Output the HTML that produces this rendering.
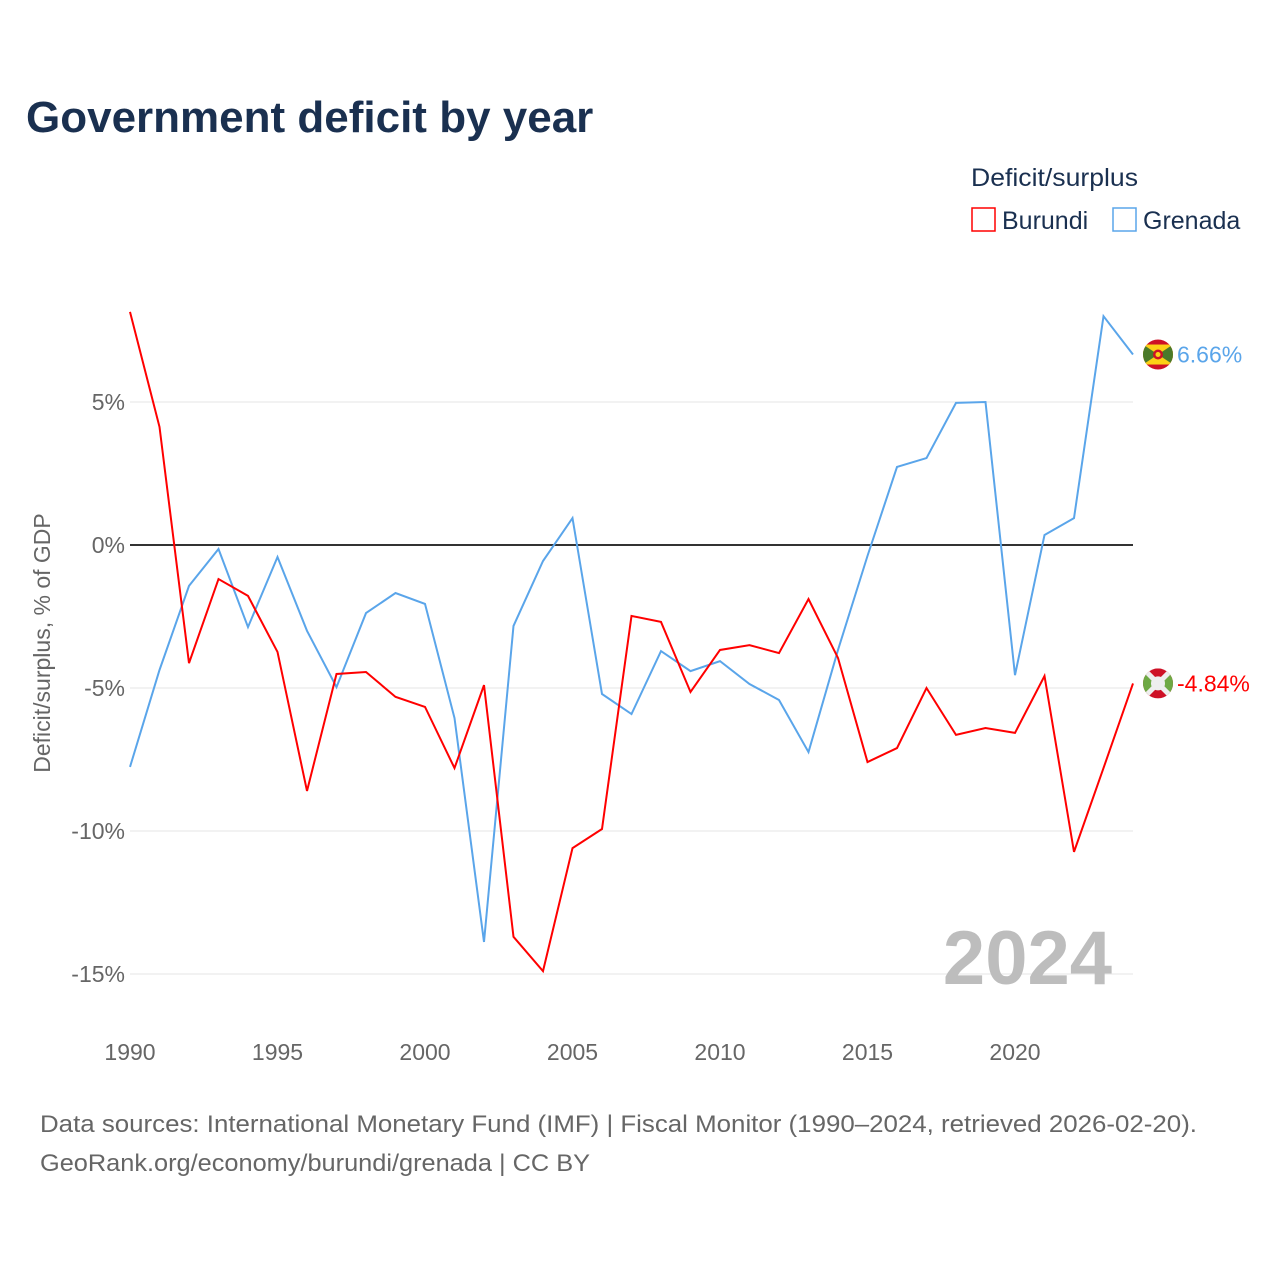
<!DOCTYPE html>
<html><head><meta charset="utf-8">
<style>
body{margin:0;background:#fff;}
svg text{font-family:"Liberation Sans",sans-serif;}
</style></head>
<body>
<svg id="chart" width="1280" height="1280" viewBox="0 0 1280 1280" xmlns="http://www.w3.org/2000/svg">
<rect width="1280" height="1280" fill="#fff"/>
<text x="26" y="132" font-size="44" font-weight="bold" fill="#1a3050">Government deficit by year</text>
<text x="971" y="186" font-size="25" fill="#1a3050" textLength="167" lengthAdjust="spacingAndGlyphs">Deficit/surplus</text>
<g>
<rect x="972" y="208" width="23" height="23" fill="none" stroke="#ff0000" stroke-width="1.5"/>
<text x="1002" y="229" font-size="25" fill="#1a3050">Burundi</text></g>
<g>
<rect x="1113" y="208" width="23" height="23" fill="none" stroke="#5aa5ea" stroke-width="1.5"/>
<text x="1143" y="229" font-size="25" fill="#1a3050">Grenada</text></g>
<text transform="translate(50,643) rotate(-90)" text-anchor="middle" font-size="23" fill="#666">Deficit/surplus, % of GDP</text>
<g id="grid"></g><g id="series"></g>
<text x="1112" y="984" text-anchor="end" font-size="76" font-weight="bold" fill="#bdbdbd">2024</text>
<text x="40" y="1132" font-size="24" fill="#666" textLength="1157" lengthAdjust="spacingAndGlyphs">Data sources: International Monetary Fund (IMF) | Fiscal Monitor (1990–2024, retrieved 2026-02-20).</text>
<text x="40" y="1171" font-size="24" fill="#666" textLength="550" lengthAdjust="spacingAndGlyphs">GeoRank.org/economy/burundi/grenada | CC BY</text>
</svg>
<script>
const years=[1990,1991,1992,1993,1994,1995,1996,1997,1998,1999,2000,2001,2002,2003,2004,2005,2006,2007,2008,2009,2010,2011,2012,2013,2014,2015,2016,2017,2018,2019,2020,2021,2022,2023,2024];
const burundi=[8.15,4.13,-4.13,-1.19,-1.78,-3.74,-8.6,-4.51,-4.44,-5.31,-5.66,-7.8,-4.9,-13.7,-14.9,-10.6,-9.93,-2.48,-2.69,-5.14,-3.67,-3.5,-3.78,-1.89,-3.95,-7.59,-7.1,-5.0,-6.64,-6.4,-6.57,-4.58,-10.73,-7.8,-4.84];
const grenada=[-7.76,-4.37,-1.43,-0.14,-2.87,-0.42,-3.0,-4.97,-2.38,-1.68,-2.06,-6.05,-13.88,-2.83,-0.56,0.94,-5.21,-5.91,-3.71,-4.41,-4.06,-4.86,-5.42,-7.24,-3.67,-0.38,2.73,3.04,4.97,5.0,-4.55,0.35,0.94,8.0,6.66];
const yTicks=[5,0,-5,-10,-15];
const yTickLabels=["5%","0%","-5%","-10%","-15%"];
const xTicks=[1990,1995,2000,2005,2010,2015,2020];
const NS="http://www.w3.org/2000/svg";
const X=y=>130+(y-1990)*(1003/34);
const Y=v=>545-v*28.6;
function mk(t,a,p){const e=document.createElementNS(NS,t);for(const k in a)e.setAttribute(k,a[k]);p.appendChild(e);return e;}
const grid=document.getElementById('grid');
yTicks.forEach((v,i)=>{
 const l=mk('line',{x1:130,x2:1133,y1:Y(v),y2:Y(v),stroke:v===0?'#333':'#e6e6e6','stroke-width':v===0?2:1},grid);
 
 
 const t=mk('text',{x:125,y:Y(v)+8,'text-anchor':'end','font-size':23,fill:'#666'},grid);
 t.textContent=yTickLabels[i];
 
 
});
xTicks.forEach(yr=>{
 const t=mk('text',{x:X(yr),y:1060,'text-anchor':'middle','font-size':23,fill:'#666'},grid);
 t.textContent=yr;
 
 
});
const s=document.getElementById('series');
function line(vals,color,name){
 const p=mk('polyline',{points:vals.map((v,i)=>X(years[i])+','+Y(v)).join(' '),fill:'none',stroke:color,'stroke-width':2},s);
 
 
}
line(grenada,'#5aa5ea','grenada-line');
line(burundi,'#ff0000','burundi-line');
function flag(v,name,kind){
 const cx=1158,cy=Y(v);
 const g=mk('g',{},s);
 
 
 const cp=mk('clipPath',{id:'c'+kind},g);mk('circle',{cx:cx,cy:cy,r:15},cp);
 const gg=mk('g',{'clip-path':'url(#c'+kind+')'},g);
 if(kind==='gr'){
  mk('rect',{x:cx-15,y:cy-15,width:30,height:30,fill:'#ce1126'},gg);
  mk('rect',{x:cx-15,y:cy-10,width:30,height:20,fill:'#fcd116'},gg);
  mk('polygon',{points:`${cx-15},${cy-10} ${cx},${cy} ${cx-15},${cy+10}`,fill:'#4a7a2a'},gg);
  mk('polygon',{points:`${cx+15},${cy-10} ${cx},${cy} ${cx+15},${cy+10}`,fill:'#4a7a2a'},gg);
  mk('circle',{cx:cx,cy:cy,r:5,fill:'#ce1126'},gg);
  mk('circle',{cx:cx,cy:cy,r:2.5,fill:'#fcd116'},gg);
 }else{
  mk('rect',{x:cx-15,y:cy-15,width:30,height:30,fill:'#ce1126'},gg);
  mk('polygon',{points:`${cx-15},${cy-15} ${cx},${cy} ${cx-15},${cy+15}`,fill:'#6ea944'},gg);
  mk('polygon',{points:`${cx+15},${cy-15} ${cx},${cy} ${cx+15},${cy+15}`,fill:'#6ea944'},gg);
  mk('line',{x1:cx-15,y1:cy-15,x2:cx+15,y2:cy+15,stroke:'#eee','stroke-width':5},gg);
  mk('line',{x1:cx+15,y1:cy-15,x2:cx-15,y2:cy+15,stroke:'#eee','stroke-width':5},gg);
  mk('circle',{cx:cx,cy:cy,r:7,fill:'#eee'},gg);
 }
}
flag(grenada[grenada.length-1],'grenada-flag','gr');
flag(burundi[burundi.length-1],'burundi-flag','bu');
function endLabel(v,color,name){
 const t=mk('text',{x:1177,y:Y(v)+8,'font-size':23,fill:color},s);
 t.textContent=v.toFixed(2)+'%';
 
 
}
endLabel(grenada[grenada.length-1],'#5aa5ea','grenada-end-label');
endLabel(burundi[burundi.length-1],'#ff0000','burundi-end-label');
</script>
</body></html>
